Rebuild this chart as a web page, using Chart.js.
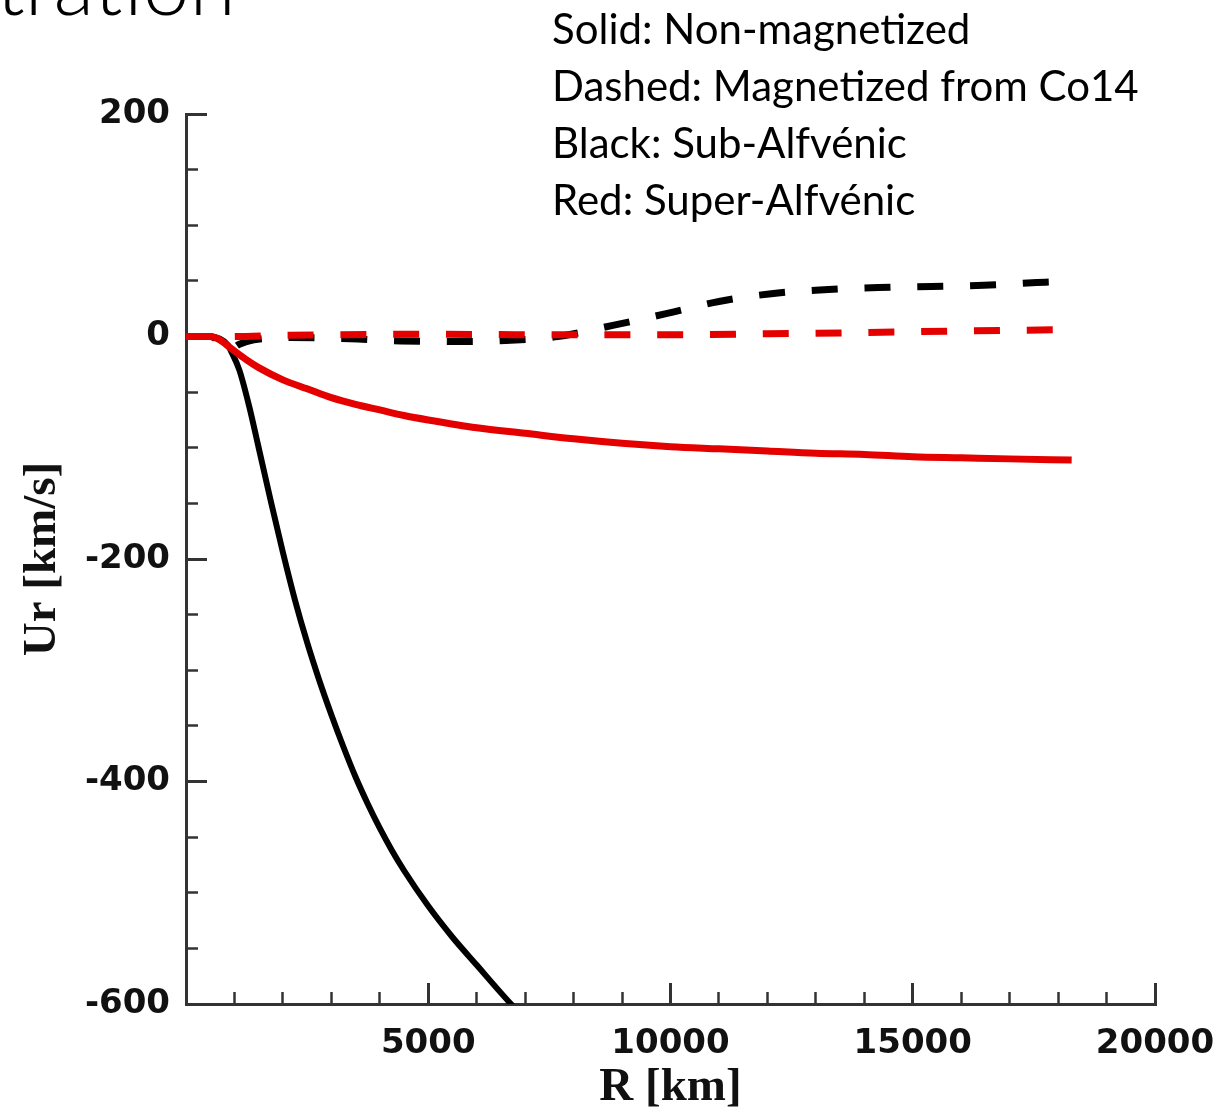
<!DOCTYPE html>
<html>
<head>
<meta charset="utf-8">
<title>Ur vs R</title>
<script src="https://cdn.jsdelivr.net/npm/chart.js@4.4.1/dist/chart.umd.min.js"></script>
<style>
  html, body { margin: 0; padding: 0; background: #fff; }
  #page { position: relative; width: 1224px; height: 1120px; overflow: hidden; background: #fff; }
  #plot { position: absolute; left: 0; top: 0; }
  .heading {
    position: absolute; left: -4px; top: -59px;
    font: 300 84px/84px Lato, "Open Sans", sans-serif;
    color: #000; white-space: nowrap;
  }
  .notes {
    position: absolute; left: 552px; top: 0px;
    font: 42px/57px Lato, "Open Sans", sans-serif;
    color: #000; white-space: nowrap;
  }
</style>
</head>
<body>
<div id="page">
  <canvas id="plot" width="1224" height="1120"></canvas>
  <div class="heading">tration</div>
  <div class="notes">
    Solid: Non-magnetized<br>
    Dashed: Magnetized from Co14<br>
    Black: Sub-Alfvénic<br>
    Red: Super-Alfvénic
  </div>
</div>
<script>
// --- data: radial velocity Ur [km/s] against R [km] ---
const blackSolidR  = [0, 500, 700, 850, 950, 1100, 1300, 1500, 1750, 2000, 2250, 2500, 2750, 3000, 3250, 3500, 3750, 4000, 4250, 4500, 5000, 5500, 6000, 6500, 7000];
const blackSolidUr = [0, 0, -2, -7, -15, -30, -62, -100, -148, -194, -237, -275, -309, -340, -369, -396, -420, -442, -462, -480, -512, -540, -565, -590, -614];

const redSolidR  = [0, 500, 700, 850, 1000, 1250, 1500, 2000, 2500, 3000, 3500, 4000, 4500, 5000, 6000, 7000, 8000, 9000, 10000, 11000, 12000, 13000, 14000, 15000, 16000, 17000, 18280];
const redSolidUr = [0, 0, -3, -8, -13, -21, -28, -39, -47, -55, -61, -66, -71, -75, -82, -87, -92, -96, -99, -101, -103, -105, -106, -108, -109, -110, -111];

const blackDashedR  = [0, 500, 700, 900, 1100, 1400, 2150, 3390, 4430, 5560, 6600, 7670, 8810, 9910, 11000, 12080, 13170, 14290, 15390, 16460, 17560, 17830];
const blackDashedUr = [0, 0, -5, -12, -7, -3, -1, -2, -4, -4.5, -3.5, 0, 10, 20.5, 31.5, 38.5, 42, 44, 45, 46, 48.5, 49];

const redDashedR  = [0, 900, 2000, 5000, 8000, 10000, 12000, 14000, 16000, 17930];
const redDashedUr = [0, 0, 1, 2, 1.5, 1.5, 2.5, 3.5, 5, 6];

// axis ranges and tick steps
const xRange = [0, 20000];
const yRange = [-600, 200];
const xMajorStep = 5000, xMinorStep = 1000;
const yMajorStep = 200, yMinorStep = 50;

// --- styling ---
const RED = '#e50000';
const BLACK = '#000000';
const AXIS = '#333333';
const DASH = [26, 26.8];
const TICK_FONT = { family: '"DejaVu Sans", Verdana, sans-serif', size: 34, weight: 'bold' };
const TITLE_FONT = { family: '"Liberation Serif", "Times New Roman", serif', size: 47, weight: 'bold' };

const toPoints = (rs, us) => rs.map((r, i) => ({ x: r, y: us[i] }));

// small inward ticks live on their own zero-size axes
const minorAxis = (position, step, range) => ({
    type: 'linear',
    position,
    min: range[0],
    max: range[1],
    weight: 0,
    afterFit: position === 'left' ? (s) => { s.width = 0; } : (s) => { s.height = 0; },
    border: { display: false },
    grid: { drawOnChartArea: false, tickLength: -12, tickWidth: 2.5, tickColor: AXIS },
    ticks: { display: false, stepSize: step }
});

const ctx = document.getElementById('plot').getContext('2d');

new Chart(ctx, {
    type: 'line',
    data: {
        datasets: [
            { label: 'Super-Alfvénic, magnetized', data: toPoints(redDashedR, redDashedUr), borderColor: RED, borderWidth: 7, borderDash: DASH, borderDashOffset: 4 },
            { label: 'Super-Alfvénic', data: toPoints(redSolidR, redSolidUr), borderColor: RED, borderWidth: 7 },
            { label: 'Sub-Alfvénic, magnetized', data: toPoints(blackDashedR, blackDashedUr), borderColor: BLACK, borderWidth: 7, borderDash: DASH, borderDashOffset: 49 },
            { label: 'Sub-Alfvénic', data: toPoints(blackSolidR, blackSolidUr), borderColor: BLACK, borderWidth: 6 }
        ]
    },
    options: {
        responsive: false,
        animation: false,
        layout: { padding: { left: 0, top: 114, right: 69, bottom: 0 } },
        elements: {
            point: { radius: 0 },
            line: { cubicInterpolationMode: 'monotone', borderCapStyle: 'butt', fill: false }
        },
        plugins: {
            legend: { display: false },
            tooltip: { enabled: false }
        },
        scales: {
            x: {
                type: 'linear',
                position: 'bottom',
                min: xRange[0],
                max: xRange[1],
                weight: 1,
                afterFit: (s) => { s.height = 116; s.paddingLeft = 0; s.paddingRight = 0; },
                border: { color: AXIS, width: 3 },
                grid: { drawOnChartArea: false, tickLength: -21, tickWidth: 3, tickColor: AXIS },
                ticks: {
                    stepSize: xMajorStep,
                    padding: 41,
                    maxRotation: 0,
                    autoSkip: false,
                    color: '#111',
                    font: TICK_FONT,
                    callback: (v) => (v === 0 ? '' : String(v))
                },
                title: { display: true, text: 'R [km]', color: '#111', font: TITLE_FONT, padding: { top: 0, bottom: 4 } }
            },
            xMinor: minorAxis('bottom', xMinorStep, xRange),
            y: {
                type: 'linear',
                position: 'left',
                min: yRange[0],
                max: yRange[1],
                weight: 1,
                afterFit: (s) => { s.width = 186; s.paddingTop = 0; s.paddingBottom = 0; },
                border: { color: AXIS, width: 3 },
                grid: { drawOnChartArea: false, tickLength: -21, tickWidth: 3, tickColor: AXIS },
                ticks: {
                    stepSize: yMajorStep,
                    padding: 37,
                    autoSkip: false,
                    color: '#111',
                    font: TICK_FONT,
                    callback: (v) => String(v)
                },
                title: { display: true, text: 'Ur [km/s]', color: '#111', font: TITLE_FONT, padding: { top: 15, bottom: 0 } }
            },
            yMinor: minorAxis('left', yMinorStep, yRange)
        }
    }
});
</script>
</body>
</html>
